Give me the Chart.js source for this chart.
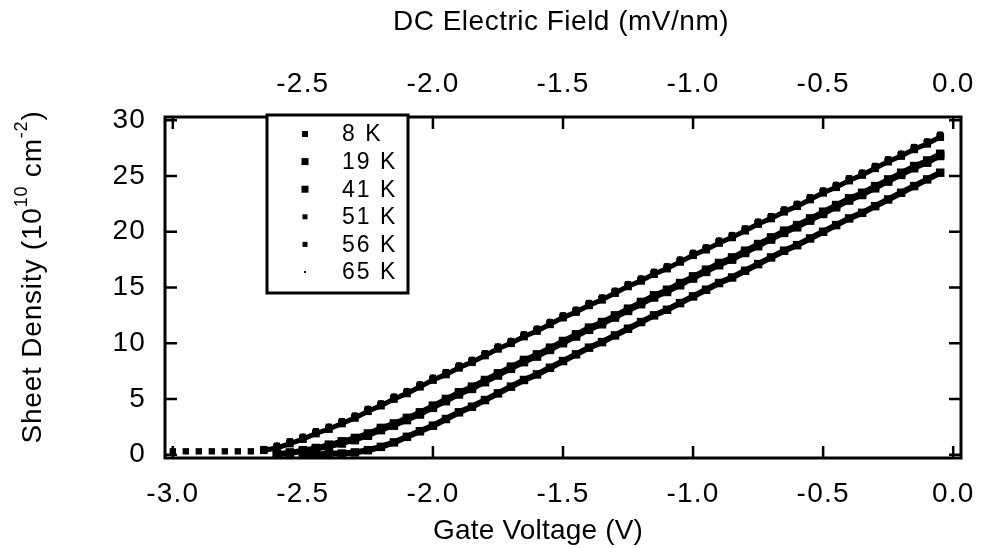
<!DOCTYPE html>
<html>
<head>
<meta charset="utf-8">
<script src="https://cdn.jsdelivr.net/npm/chart.js@4"></script>
<style>
  html, body { margin: 0; padding: 0; background: #fff; }
  canvas { display: block; }
</style>
</head>
<body>
<canvas id="chart" width="986" height="548"></canvas>
<script>
// gate voltage (V), shared by all temperatures
const gateVoltage = [
  -3.00, -2.95, -2.90, -2.85, -2.80, -2.75, -2.70, -2.65, -2.60, -2.55,
  -2.50, -2.45, -2.40, -2.35, -2.30, -2.25, -2.20, -2.15, -2.10, -2.05,
  -2.00, -1.95, -1.90, -1.85, -1.80, -1.75, -1.70, -1.65, -1.60, -1.55,
  -1.50, -1.45, -1.40, -1.35, -1.30, -1.25, -1.20, -1.15, -1.10, -1.05,
  -1.00, -0.95, -0.90, -0.85, -0.80, -0.75, -0.70, -0.65, -0.60, -0.55,
  -0.50, -0.45, -0.40, -0.35, -0.30, -0.25, -0.20, -0.15, -0.10, -0.05
];

// sheet density (1e10 cm^-2)
const density8K = [
  null, null, null, null, null, null, null, null, null, null,
  0.0, 0.0, 0.1, 0.1, 0.2, 0.4, 0.7, 1.1, 1.6, 2.1,
  2.6, 3.2, 3.8, 4.3, 4.9, 5.5, 6.1, 6.7, 7.2, 7.8,
  8.4, 9.0, 9.6, 10.1, 10.7, 11.3, 11.9, 12.5, 13.0, 13.6,
  14.2, 14.8, 15.4, 15.9, 16.5, 17.1, 17.7, 18.3, 18.8, 19.4,
  20.0, 20.6, 21.2, 21.7, 22.3, 22.9, 23.5, 24.1, 24.7, 25.3
];
const density19K = [
  null, null, null, null, null, null, null, null, 0.0, 0.1,
  0.3, 0.5, 0.7, 1.0, 1.3, 1.7, 2.2, 2.6, 3.1, 3.6,
  4.2, 4.8, 5.4, 5.9, 6.5, 7.1, 7.7, 8.3, 8.8, 9.4,
  10.0, 10.6, 11.2, 11.7, 12.3, 12.9, 13.5, 14.1, 14.6, 15.2,
  15.8, 16.4, 17.0, 17.5, 18.1, 18.7, 19.3, 19.9, 20.4, 21.0,
  21.6, 22.2, 22.8, 23.3, 23.9, 24.5, 25.1, 25.7, 26.2, 26.8
];
const density41K = [
  null, null, null, null, null, null, null, null, 0.1, 0.2,
  0.4, 0.6, 0.9, 1.2, 1.5, 1.9, 2.4, 2.8, 3.3, 3.8,
  4.4, 5.0, 5.6, 6.1, 6.7, 7.3, 7.9, 8.5, 9.0, 9.6,
  10.2, 10.8, 11.4, 11.9, 12.5, 13.1, 13.7, 14.3, 14.8, 15.4,
  16.0, 16.6, 17.2, 17.7, 18.3, 18.9, 19.5, 20.1, 20.6, 21.2,
  21.8, 22.4, 23.0, 23.5, 24.1, 24.7, 25.3, 25.9, 26.4, 27.0
];
const density51K = [
  null, null, null, null, null, null, null, 0.4, 0.6, 1.0,
  1.4, 1.9, 2.3, 2.8, 3.3, 3.9, 4.4, 5.0, 5.5, 6.1,
  6.7, 7.2, 7.8, 8.3, 8.9, 9.5, 10.0, 10.6, 11.1, 11.7,
  12.3, 12.8, 13.4, 13.9, 14.5, 15.1, 15.6, 16.2, 16.7, 17.3,
  17.9, 18.4, 19.0, 19.5, 20.1, 20.7, 21.2, 21.8, 22.3, 22.9,
  23.5, 24.0, 24.6, 25.1, 25.7, 26.3, 26.8, 27.4, 27.9, 28.5
];
const density56K = [
  0.3, 0.3, 0.3, 0.3, 0.3, 0.3, 0.3, 0.5, 0.8, 1.2,
  1.6, 2.1, 2.5, 3.0, 3.5, 4.1, 4.6, 5.2, 5.7, 6.3,
  6.9, 7.4, 8.0, 8.5, 9.1, 9.7, 10.2, 10.8, 11.3, 11.9,
  12.5, 13.0, 13.6, 14.1, 14.7, 15.3, 15.8, 16.4, 16.9, 17.5,
  18.1, 18.6, 19.2, 19.7, 20.3, 20.9, 21.4, 22.0, 22.5, 23.1,
  23.7, 24.2, 24.8, 25.3, 25.9, 26.5, 27.0, 27.6, 28.1, 28.7
];
const density65K = [
  null, null, null, null, null, null, null, 0.6, 1.0, 1.4,
  1.8, 2.3, 2.7, 3.2, 3.7, 4.3, 4.8, 5.4, 5.9, 6.5,
  7.1, 7.6, 8.2, 8.7, 9.3, 9.9, 10.4, 11.0, 11.5, 12.1,
  12.7, 13.2, 13.8, 14.3, 14.9, 15.5, 16.0, 16.6, 17.1, 17.7,
  18.3, 18.8, 19.4, 19.9, 20.5, 21.1, 21.6, 22.2, 22.7, 23.3,
  23.9, 24.4, 25.0, 25.5, 26.1, 26.7, 27.2, 27.8, 28.3, 28.9
];

const seriesLabels = ['8 K', '19 K', '41 K', '51 K', '56 K', '65 K'];
const gateTicks = [-3.0, -2.5, -2.0, -1.5, -1.0, -0.5, 0.0];
const fieldTicks = [-3.0, -2.5, -2.0, -1.5, -1.0, -0.5, 0.0];
const densityTicks = [0, 5, 10, 15, 20, 25, 30];

const FONT = '"Liberation Sans", Arial, Helvetica, sans-serif';

// marker look per series: [point radius, line width]
const looks = [[6, 6], [6, 5], [6, 5], [5.5, 5], [4.5, 0], [1.5, 0]];
const allDensity = [density8K, density19K, density41K, density51K, density56K, density65K];

const datasets = allDensity.map((vals, k) => ({
  label: seriesLabels[k],
  data: gateVoltage.map((v, i) => ({ x: v, y: vals[i] })),
  showLine: looks[k][1] > 0,
  borderColor: '#000',
  borderWidth: looks[k][1],
  pointStyle: 'rect',
  pointRadius: looks[k][0],
  pointBorderWidth: 0,
  pointBackgroundColor: '#000',
  xAxisID: 'x',
  yAxisID: 'y'
}));

function spaced(ctx, px) {
  if ('letterSpacing' in ctx) ctx.letterSpacing = px + 'px';
}

const framePlugin = {
  id: 'frame',
  beforeDraw(chart) {
    spaced(chart.ctx, 1.2);
  },
  afterDraw(chart) {
    const { ctx, chartArea: a, scales } = chart;
    ctx.save();
    ctx.strokeStyle = '#000';
    ctx.lineWidth = 2.5;
    ctx.beginPath();
    const tl = 12;
    gateTicks.forEach(v => {
      const px = scales.x.getPixelForValue(v);
      ctx.moveTo(px, a.bottom); ctx.lineTo(px, a.bottom - tl);
    });
    fieldTicks.forEach(v => {
      const px = scales.x2.getPixelForValue(v);
      ctx.moveTo(px, a.top); ctx.lineTo(px, a.top + tl);
    });
    densityTicks.forEach(v => {
      const py = scales.y.getPixelForValue(v);
      ctx.moveTo(a.left, py); ctx.lineTo(a.left + tl, py);
      ctx.moveTo(a.right, py); ctx.lineTo(a.right - tl, py);
    });
    ctx.stroke();
    ctx.lineWidth = 3;
    ctx.strokeRect(a.left, a.top, a.right - a.left, a.bottom - a.top);

    // legend box
    const lx = 267, ly = 115, lw = 141, lh = 178;
    ctx.fillStyle = '#fff';
    ctx.fillRect(lx, ly, lw, lh);
    ctx.lineWidth = 3;
    ctx.strokeRect(lx, ly, lw, lh);
    ctx.fillStyle = '#000';
    ctx.font = '23px ' + FONT;
    ctx.textBaseline = 'middle';
    ctx.textAlign = 'left';
    spaced(ctx, 2);
    const legendSides = [6, 7, 7, 5, 5, 2];
    seriesLabels.forEach((lab, k) => {
      const cy = ly + 19 + k * 27.6;
      const s = legendSides[k];
      ctx.fillRect(lx + 38 - s / 2, cy - s / 2, s, s);
      ctx.fillText(lab, lx + 75, cy + 1);
    });

    // axis titles
    ctx.textAlign = 'center';
    ctx.font = '28px ' + FONT;
    spaced(ctx, 0.2);
    ctx.fillText('Gate Voltage (V)', 538, 531);
    spaced(ctx, 0.5);
    ctx.fillText('DC Electric Field (mV/nm)', 561, 22);

    // y title with superscripts
    ctx.translate(33, 277);
    ctx.rotate(-Math.PI / 2);
    ctx.textAlign = 'left';
    spaced(ctx, 0.8);
    const big = '28px ' + FONT, small = '18px ' + FONT;
    const parts = [
      ['Sheet Density (10', big, 0],
      ['10', small, -11],
      [' cm', big, 0],
      ['-2', small, -11],
      [')', big, 0]
    ];
    let total = 0;
    parts.forEach(p => { ctx.font = p[1]; total += ctx.measureText(p[0]).width; });
    let cx = -total / 2;
    parts.forEach(p => {
      ctx.font = p[1];
      ctx.fillText(p[0], cx, p[2]);
      cx += ctx.measureText(p[0]).width;
    });
    ctx.restore();
  }
};

const tickFont = { family: FONT, size: 28, lineHeight: 1.2 };

new Chart(document.getElementById('chart').getContext('2d'), {
  type: 'scatter',
  data: { datasets },
  options: {
    responsive: false,
    animation: false,
    devicePixelRatio: 1,
    layout: { padding: { left: 0, right: 25, top: 0, bottom: 0 } },
    plugins: { legend: { display: false }, tooltip: { enabled: false } },
    scales: {
      x: {
        type: 'linear', position: 'bottom', min: -3.03, max: 0.03,
        grid: { display: false }, border: { display: false },
        afterBuildTicks: s => { s.ticks = gateTicks.map(v => ({ value: v })); },
        ticks: { font: tickFont, color: '#000', padding: 11, maxRotation: 0, autoSkip: false,
                 callback: v => Number(v).toFixed(1) },
        afterFit: s => { s.height = 90; }
      },
      x2: {
        type: 'linear', position: 'top', min: -3.03, max: 0.03,
        grid: { display: false }, border: { display: false },
        afterBuildTicks: s => { s.ticks = fieldTicks.map(v => ({ value: v })); },
        ticks: { font: tickFont, color: '#000', padding: 8, maxRotation: 0, autoSkip: false,
                 callback: v => (v <= -3 ? '' : Number(v).toFixed(1)) },
        afterFit: s => { s.height = 117; }
      },
      y: {
        type: 'linear', position: 'left', min: -0.3, max: 30.3,
        grid: { display: false }, border: { display: false },
        afterBuildTicks: s => { s.ticks = densityTicks.map(v => ({ value: v })); },
        ticks: { font: tickFont, color: '#000', padding: 11, autoSkip: false },
        afterFit: s => { s.width = 165; }
      }
    }
  },
  plugins: [framePlugin]
});
</script>
</body>
</html>
